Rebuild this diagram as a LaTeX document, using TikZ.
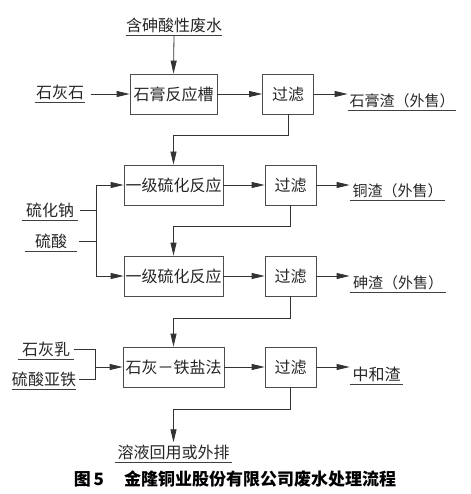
\documentclass[tikz,border=0pt]{standalone}
\usepackage{fontspec}
\newfontfamily\cjk{Noto Sans CJK SC}
\usetikzlibrary{arrows.meta}
\begin{document}
\begin{tikzpicture}[x=1pt, y=-1pt, line width=0.8pt,
    every node/.style={font=\cjk\fontsize{16}{18}\selectfont, text=black!85},
    proc1/.style={draw=black!70, minimum height=40pt, inner sep=0pt},
    lab1/.style={anchor=south, inner xsep=0pt, inner ysep=2pt, minimum width=#1,
        append after command={(\tikzlastnode.south west) edge[draw=black!75] (\tikzlastnode.south east)}},
    out1/.style={lab1=#1, font=\cjk\fontsize{15}{18}\selectfont},
    arr1/.style={-{Triangle[length=13pt,width=6pt]}, draw=black!80},
    line1/.style={draw=black!80}]
    \useasboundingbox (0,0) rectangle (470,494);
    % Boxes
    \node[proc1, minimum width=87pt]  (gyp)   at (173.5,94)  {石膏反应槽};
    \node[proc1, minimum width=51pt]  (filt1) at (288,94)    {过滤};
    \node[proc1, minimum width=99pt]  (sulf1) at (173.5,185) {一级硫化反应};
    \node[proc1, minimum width=51pt]  (filt2) at (290.5,185) {过滤};
    \node[proc1, minimum width=99pt]  (sulf2) at (173.5,276) {一级硫化反应};
    \node[proc1, minimum width=51pt]  (filt3) at (290.5,276) {过滤};
    \node[proc1, minimum width=101pt] (lime)  at (173.5,367) {石灰－铁盐法};
    \node[proc1, minimum width=51pt]  (filt4) at (290.5,367) {过滤};
    % Inputs
    \node[lab1=92pt]  (water)    at (174,35)  {含砷酸性废水};
    \node[lab1=50pt]  (stone)    at (60,102)  {石灰石};
    \node[lab1=56pt]  (na2s)     at (50,220)  {硫化钠};
    \node[lab1=52pt]  (h2so4)    at (51,251)  {硫酸};
    \node[lab1=56pt]  (milk)     at (46,359)  {石灰乳};
    \node[lab1=59pt]  (feso4)    at (44,389)  {硫酸亚铁};
    % Outputs
    \node[out1=108pt] (gypslag)  at (402,110) {石膏渣（外售）};
    \node[out1=95pt]  (cuslag)   at (397.5,200) {铜渣（外售）};
    \node[out1=96pt]  (asslag)   at (398,292) {砷渣（外售）};
    \node[lab1=53pt]  (neuslag)  at (376.5,384) {中和渣};
    \node[lab1=117pt] (effluent) at (173.5,462) {溶液回用或外排};
    % Caption
    \node[font=\cjk\bfseries\fontsize{17}{19}\selectfont, text=black] (cap) at (235,479)
        {图\,5\hspace{20pt}金隆铜业股份有限公司废水处理流程};
    % Row 1
    \draw[arr1] (water.south) -- (gyp.north);
    \draw[arr1] ([xshift=6]stone.east |- gyp.west) -- (gyp.west);
    \draw[arr1] (gyp.east) -- (filt1.west);
    \draw[arr1] (filt1.east) -- (filt1.east -| gypslag.west);
    \draw[arr1] (filt1.south) -- ++(0,21) -| (sulf1.north);
    % Row 2 and 3
    \coordinate (feed1) at (96,230);
    \draw[line1] ([xshift=2]na2s.east) -- (na2s.east -| feed1);
    \draw[line1] ([xshift=2]h2so4.east) -- (h2so4.east -| feed1);
    \draw[line1] (feed1 |- sulf1.west) -- (feed1 |- sulf2.west);
    \draw[arr1] (feed1 |- sulf1.west) -- (sulf1.west);
    \draw[arr1] (feed1 |- sulf2.west) -- (sulf2.west);
    \draw[arr1] (sulf1.east) -- (filt2.west);
    \draw[arr1] (filt2.east) -- (filt2.east -| cuslag.west);
    \draw[arr1] (filt2.south) -- ++(0,21) -| (sulf2.north);
    \draw[arr1] (sulf2.east) -- (filt3.west);
    \draw[arr1] (filt3.east) -- (filt3.east -| asslag.west);
    \draw[arr1] (filt3.south) -- ++(0,22) -| (lime.north);
    % Row 4
    \coordinate (feed2) at (95,367);
    \draw[line1] (milk.east) -| (feed2);
    \draw[line1] ([xshift=3]feso4.east) -| (feed2);
    \draw[arr1] (feed2) -- (lime.west);
    \draw[arr1] (lime.east) -- (filt4.west);
    \draw[arr1] (filt4.east) -- (filt4.east -| neuslag.west);
    \draw[arr1] (filt4.south) -- ++(0,22) -| (effluent.north);
\end{tikzpicture}
\end{document}
